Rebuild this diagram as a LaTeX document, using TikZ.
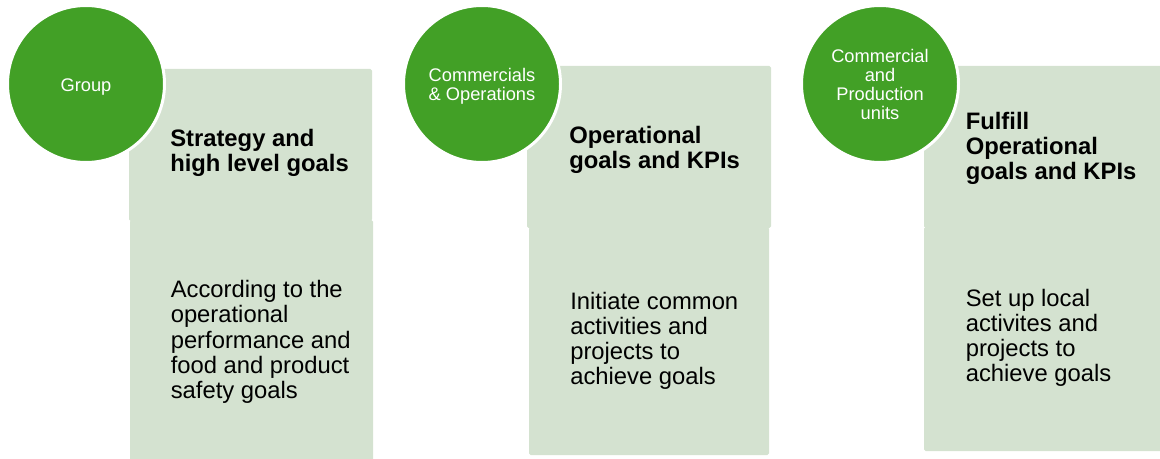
\documentclass[tikz,border=0pt]{standalone}
\usepackage{fontspec}
\setmainfont{Liberation Sans}
\definecolor{cgreen}{RGB}{66,160,38}
\definecolor{cbox}{RGB}{212,226,208}
\begin{document}
\begin{tikzpicture}[x=0.75pt,y=-0.75pt,
  boxfill/.style={fill=cbox,rounded corners=1.2pt},
  circ/.style={circle,fill=cgreen,draw=white,line width=2.25pt,minimum size=117.75pt,inner sep=0pt},
  ctext/.style={text=white,align=center,inner sep=0pt,font=\fontsize{13.7pt}{14.25pt}\selectfont},
  title/.style={anchor=base west,align=left,inner sep=0pt,font=\fontsize{17.85pt}{18.75pt}\selectfont\bfseries},
  body/.style={anchor=base west,align=left,inner sep=0pt,font=\fontsize{17.85pt}{18.75pt}\selectfont}
]
\useasboundingbox (0,0) rectangle (1160,459);
% column 1
\fill[boxfill] (130,220) rectangle (373,462);
\fill[boxfill] (129,69) rectangle (372,221);
% column 2
\fill[boxfill] (529,227) rectangle (769,455);
\fill[boxfill] (527,66) rectangle (771,228);
% column 3
\fill[boxfill] (924,227) rectangle (1163,451);
\fill[boxfill] (924,66) rectangle (1163,228);
% circles
\node[circ] (c1) at (86,84) {};
\node[circ] (c2) at (482,84) {};
\node[circ] (c3) at (880,84) {};
\node[ctext] (l1) at ([yshift=-2.25pt]c1.center) {Group};
\node[ctext] (l2) at ([yshift=-1.5pt]c2.center) {Commercials\\\& Operations};
\node[ctext] (l3) at ([yshift=-0.4pt]c3.center) {Commercial\\and\\Production\\units};
% titles (anchored at the baseline of the last line)
\node[title] (t1) at (170,171.7) {Strategy and\\high level goals};
\node[title] (t2) at (569,168.3) {Operational\\goals and KPIs};
\node[title] (t3) at (965.5,180) {Fulfill\\Operational\\goals and KPIs};
% bodies
\node[body] (b1) at (170.5,398) {According to the\\operational\\performance and\\food and product\\safety goals};
\node[body] (b2) at (570,384.5) {Initiate common\\activities and\\projects to\\achieve goals};
\node[body] (b3) at (965.5,382) {Set up local\\activites and\\projects to\\achieve goals};
\end{tikzpicture}
\end{document}
